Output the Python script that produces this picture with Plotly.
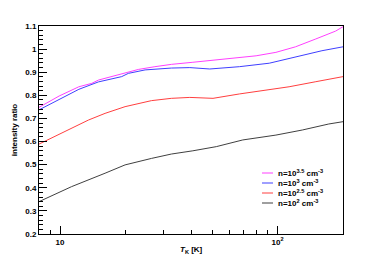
import plotly.graph_objects as go
import math

# --- data ---
t_n35 = [8.0, 9.9, 12.2, 14.0, 15.0, 16.7, 19.9, 22.9, 27.3, 32.5, 40.8, 56.1, 79.7, 98.3, 121, 150, 185, 200]
r_n35 = [0.748, 0.797, 0.837, 0.852, 0.866, 0.878, 0.895, 0.912, 0.924, 0.934, 0.943, 0.957, 0.971, 0.986, 1.010, 1.044, 1.078, 1.097]

t_n30 = [8.0, 9.9, 12.2, 15.0, 19.2, 20.6, 24.6, 32.5, 39.5, 48.8, 66.8, 91.6, 121, 160, 200]
r_n30 = [0.737, 0.783, 0.826, 0.858, 0.881, 0.895, 0.910, 0.918, 0.920, 0.914, 0.924, 0.939, 0.967, 0.993, 1.010]

t_n25 = [8.0, 11.0, 13.5, 16.1, 19.9, 26.3, 32.5, 39.5, 50.5, 66.8, 91.6, 113, 150, 200]
r_n25 = [0.589, 0.653, 0.693, 0.722, 0.751, 0.777, 0.787, 0.791, 0.787, 0.806, 0.823, 0.837, 0.859, 0.881]

t_n20 = [8.0, 11.3, 16.1, 19.9, 26.3, 32.5, 40.8, 52.3, 69.2, 98.3, 130, 172, 200]
r_n20 = [0.340, 0.405, 0.463, 0.499, 0.527, 0.546, 0.560, 0.578, 0.607, 0.628, 0.650, 0.676, 0.686]

series_names = ["n=10<sup>3.5</sup> cm<sup>-3</sup>", "n=10<sup>3</sup> cm<sup>-3</sup>",
                "n=10<sup>2.5</sup> cm<sup>-3</sup>", "n=10<sup>2</sup> cm<sup>-3</sup>"]
series_colors = ["#ff00ff", "#0000ff", "#ff0000", "#000000"]
series_t = [t_n35, t_n30, t_n25, t_n20]
series_r = [r_n35, r_n30, r_n25, r_n20]

x_tickvals = [10, 100]
x_ticktext = ["10", "10<sup>2</sup>"]
x_minor = [9, 20, 30, 40, 50, 60, 70, 80, 90, 200]

FONT = "Liberation Sans"

fig = go.Figure()
for name, col, t, r in zip(series_names, series_colors, series_t, series_r):
    fig.add_trace(go.Scatter(x=t, y=r, mode="lines", name=name,
                             line=dict(color=col, width=1), opacity=0.75,
                             showlegend=False))

W, H = 382, 260
L, R, T, B = 39, 39, 26, 26
pw, ph = W - L - R, H - T - B

fig.update_layout(
    width=W, height=H,
    margin=dict(l=L, r=R, t=T, b=B, pad=0),
    paper_bgcolor="white", plot_bgcolor="white",
    font=dict(family=FONT, size=8, color="black"),
    showlegend=False,
)

fig.update_xaxes(
    type="log", range=[math.log10(8.0), math.log10(200)],
    tickmode="array", tickvals=x_tickvals, ticktext=x_ticktext,
    ticks="inside", ticklen=8, tickcolor="black", tickwidth=1,
    minor=dict(tickmode="array", tickvals=x_minor, ticks="inside", ticklen=4,
               tickcolor="black", showgrid=False),
    showline=True, linecolor="black", linewidth=1, mirror=True,
    showgrid=False, zeroline=False,
    tickfont=dict(size=8, weight="bold"),
    automargin=False,
)
fig.update_yaxes(
    range=[0.2, 1.1], tickmode="linear", tick0=0.2, dtick=0.1,
    ticks="inside", ticklen=8, tickcolor="black", tickwidth=1,
    minor=dict(dtick=0.02, ticks="inside", ticklen=4, tickcolor="black", showgrid=False),
    showline=True, linecolor="black", linewidth=1, mirror=True,
    showgrid=False, zeroline=False,
    tickfont=dict(size=8, weight="bold"),
    title=dict(text="intensity ratio", font=dict(size=8, weight="bold"), standoff=6),
    automargin=False,
)

# x-axis title as annotation (sits tight under the tick labels, as in the original)
fig.add_annotation(xref="paper", yref="paper", x=0.5, y=(H - B - 250) / ph,
                   xanchor="center", yanchor="middle", showarrow=False,
                   text="<i>T</i><sub>K</sub> [K]", font=dict(size=8, weight="bold"))

# legend drawn as annotations + short swatches (compact, like the original)
leg_y_px = [173, 183, 193, 203]
for name, col, ypx in zip(series_names, series_colors, leg_y_px):
    yp = (H - B - ypx) / ph
    fig.add_shape(type="line", xref="paper", yref="paper",
                  x0=(262 - L) / pw, x1=(273 - L) / pw, y0=yp, y1=yp,
                  line=dict(color=col, width=1), opacity=0.75)
    fig.add_annotation(xref="paper", yref="paper", x=(276 - L) / pw, y=yp,
                       xanchor="left", yanchor="middle", showarrow=False,
                       text=name, font=dict(size=8, weight="bold"))

fig.write_html("out.html",
               config={"displayModeBar": False},
               post_script="document.body.style.margin='0';document.body.style.overflow='hidden';")
